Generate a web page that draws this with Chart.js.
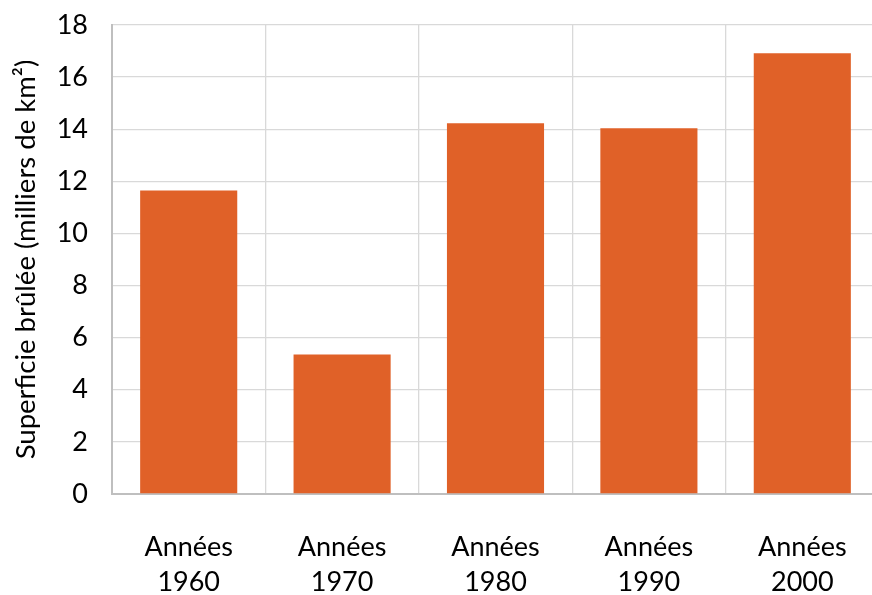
<!DOCTYPE html>
<html><head><meta charset="utf-8">
<script src="https://cdn.jsdelivr.net/npm/chart.js@4/dist/chart.umd.min.js"></script>
<style>html,body{margin:0;padding:0;overflow:hidden;background:#fff}#wrap{width:879px;height:595px}</style>
</head><body><div id="wrap"><canvas id="c" width="879" height="595"></canvas></div>
<script>
const categories = [["Années","1960"],["Années","1970"],["Années","1980"],["Années","1990"],["Années","2000"]];
const values = [11.65, 5.35, 14.23, 14.04, 16.92];
const yTicks = [0,2,4,6,8,10,12,14,16,18];
const yTitle = "Superficie brûlée (milliers de km²)";
const font = "Lato, 'Open Sans', sans-serif";
new Chart(document.getElementById('c'), {
  type: 'bar',
  data: { labels: categories, datasets: [{ data: values, backgroundColor: '#E06128', categoryPercentage: 0.633, barPercentage: 1 }] },
  options: {
    responsive: false, animation: false,
    layout: { padding: { top: 25, right: 0, left: 0, bottom: 0 } },
    plugins: { legend: { display: false }, tooltip: { enabled: false } },
    scales: {
      x: {
        grid: { color: '#d9d9d9', lineWidth: 1.3, drawTicks: false, offset: true },
        border: { color: '#bfbfbf', width: 2 },
        ticks: { font: { family: font, size: 27, lineHeight: 1.3 }, color: '#000', padding: 36, maxRotation: 0 },
        afterFit: s => { s.height = 101; s.paddingLeft = 0; s.paddingRight = 0; }
      },
      y: {
        min: 0, max: 18,
        afterBuildTicks: s => { s.ticks = yTicks.map(v => ({ value: v })); },
        grid: { color: '#d9d9d9', lineWidth: 1.3, drawTicks: false },
        border: { color: '#bfbfbf', width: 2 },
        ticks: { font: { family: font, size: 27 }, color: '#000', padding: 24 },
        title: { display: true, text: yTitle, font: { family: font, size: 27.5 }, color: '#000', padding: { top: 10, bottom: 0 } },
        afterFit: s => { s.width = 112; s.paddingTop = 0; s.paddingBottom = 0; }
      }
    }
  }
});
</script></body></html>
